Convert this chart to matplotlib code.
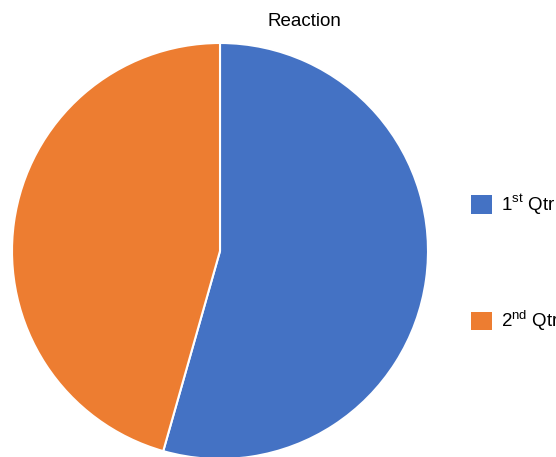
import matplotlib
matplotlib.use("Agg")
import matplotlib.pyplot as plt

plt.rcParams['font.family'] = ['Liberation Sans', 'DejaVu Sans']
plt.rcParams['mathtext.fontset'] = 'custom'
plt.rcParams['mathtext.rm'] = 'Liberation Sans'

title = "Reaction"
labels = [r"1$^{\mathrm{st}}$ Qtr", r"2$^{\mathrm{nd}}$ Qtr"]
values = [54.4, 45.6]
colors = ["#4472C4", "#ED7D31"]

W, H = 556, 457
fig = plt.figure(figsize=(W / 100, H / 100), dpi=100)
ax = fig.add_axes([12 / W, -2 / H, 416 / W, 416 / H])
wedges, _ = ax.pie(values, colors=colors, startangle=90, counterclock=False,
                   wedgeprops=dict(edgecolor="white", linewidth=1.5))
ax.set_xlim(-1, 1)
ax.set_ylim(-1, 1)
ax.set_aspect("equal")
ax.axis("off")

fig.text(304 / W, 1 - 21 / H, title, ha="center", va="center", fontsize=13.5)

leg = fig.legend(wedges, labels, loc="upper left", bbox_to_anchor=(463 / W, 1 - 185 / H),
                 frameon=False, fontsize=13.5, handlelength=1.15, handleheight=1.15,
                 labelspacing=4.9, handletextpad=0.5, borderaxespad=0)
for h in leg.legend_handles:
    h.set_edgecolor("none")

fig.savefig("out.png", dpi=100)
